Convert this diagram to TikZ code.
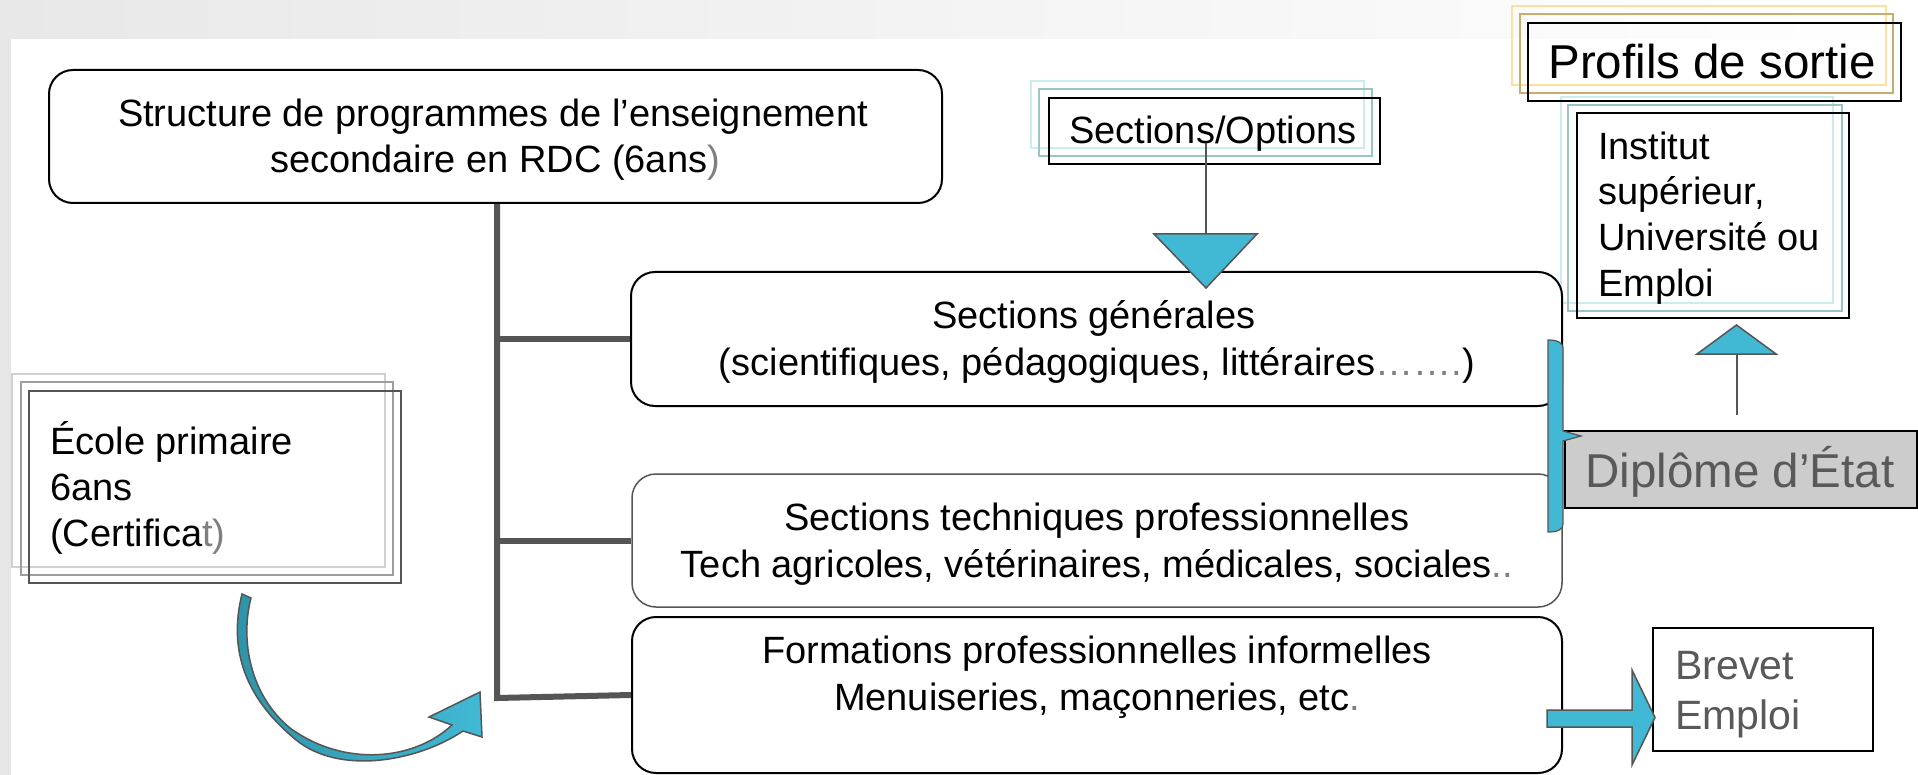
\documentclass[tikz,border=0pt]{standalone}
\usepackage{fontspec}
\setmainfont{Liberation Sans}
\usetikzlibrary{calc}
\definecolor{blu}{HTML}{41B9D5}
\definecolor{dblu}{HTML}{2E93A8}
\definecolor{edge}{HTML}{555555}
\definecolor{txtgray}{HTML}{595959}
\definecolor{dimtxt}{HTML}{7F7F7F}
\definecolor{cyanA}{HTML}{CBEBEF}
\definecolor{cyanB}{HTML}{9CC4C7}
\definecolor{yelA}{HTML}{FBE1A0}
\definecolor{yelB}{HTML}{C8AD73}
\definecolor{grayA}{HTML}{D0D0D0}
\definecolor{grayB}{HTML}{9E9E9E}
\definecolor{bandL}{HTML}{E8E8E8}
\definecolor{bandM}{HTML}{F3F3F3}
\definecolor{strip}{HTML}{E6E6E6}
\definecolor{dipl}{HTML}{CCCCCC}
\begin{document}
\begin{tikzpicture}[x=1pt,y=-1pt,
  lbl/.style={font=\fontsize{38}{46}\selectfont, inner sep=0pt, anchor=base},
  lbll/.style={lbl, anchor=base west},
  bigl/.style={font=\fontsize{47.5}{56}\selectfont, inner sep=0pt, anchor=base},
  rbox/.style={draw=black, line width=2pt, rounded corners=24pt, fill=white, inner sep=0pt},
  sbox/.style={draw=black, line width=2pt, inner sep=0pt},
  trunk/.style={draw=edge, line width=6pt},
  conn/.style={draw=edge, line width=2pt},
  bluehead/.style={fill=blu, draw=edge, line width=1.5pt, line join=miter},
  backrect/.style={line width=1.8pt},
]
\useasboundingbox (0,0) rectangle (1918,775);
% background
\shade[left color=bandL, middle color=bandM, right color=white] (0,0) rectangle (1918,39);
\fill[strip] (0,39) rectangle (11,775);
\fill[white] (11,39) rectangle (1918,775);

% decorative back rectangles
\draw[backrect, cyanA] (1031,81) rectangle (1364,148);
\draw[backrect, cyanB] (1039,89) rectangle (1372,156);
\draw[backrect, yelA] (1512,6) rectangle (1886,85);
\draw[backrect, yelB] (1520,14) rectangle (1893,93);
\draw[backrect, cyanA] (1561,97) rectangle (1833,303);
\draw[backrect, cyanB] (1568,105) rectangle (1842,311);
\draw[backrect, grayA] (12,374) rectangle (385,567);
\draw[backrect, grayB] (21,382) rectangle (393,575);

% main boxes
\node[rbox, minimum width=893pt, minimum height=133pt] (top) at (495.5,136.5) {};
\node[rbox, minimum width=931pt, minimum height=134pt] (box1) at (1096.5,339) {};
\node[rbox, draw=edge, line width=1.5pt, minimum width=930pt, minimum height=133pt] (box2) at (1097,540.5) {};
\node[rbox, minimum width=930pt, minimum height=156pt] (box3) at (1097,695) {};
\node[sbox, minimum width=331pt, minimum height=66pt] (secopt) at (1214.5,131) {};
\node[sbox, minimum width=373pt, minimum height=78pt] (profils) at (1714.5,62) {};
\node[sbox, minimum width=272pt, minimum height=205pt] (inst) at (1713,215.5) {};
\node[sbox, draw=edge, minimum width=372pt, minimum height=192pt] (ecole) at (215,487) {};
\node[sbox, fill=dipl, minimum width=352pt, minimum height=77pt] (diplome) at (1741,469.5) {};
\node[sbox, fill=white, minimum width=220pt, minimum height=123pt] (brevet) at (1763,689.5) {};

% trunk and branches
\coordinate (tj) at (497,698);
\draw[trunk, line join=miter] (top.south -| tj) -- (tj) -- (box3.west);
\draw[trunk] (box1.west -| tj) -- (box1.west);
\draw[trunk] (box2.west -| tj) -- (box2.west);

% texts
\node[lbl] (t0a) at (493,127) {Structure de programmes de l’enseignement};
\node[lbl] (t0b) at (495,173) {secondaire en RDC (6ans{\color{dimtxt})}};
\node[lbl] (t1a) at (1094,329) {Sections générales};
\node[lbl] (t1b) at (1097,375) {(scientifiques, pédagogiques, littéraires{\color{dimtxt}…….})};
\node[lbl] (t2a) at (1097,530) {Sections techniques professionnelles};
\node[lbl] (t2b) at (1097,577) {Tech agricoles, vétérinaires, médicales, sociales{\color{dimtxt}..}};
\node[lbl] (t3a) at (1097,663) {Formations professionnelles informelles};
\node[lbl] (t3b) at (1097,710) {Menuiseries, maçonneries, etc{\color{dimtxt}.}};
\node[lbl] (tso) at (1213,144) {Sections/Options};
\node[bigl] (tpr) at (1712,79) {Profils de sortie};
\node[lbll] (ti1) at (1598,160) {Institut};
\node[lbll] (ti2) at (1598,205) {supérieur,};
\node[lbll] (ti3) at (1598,251) {Université ou};
\node[lbll] (ti4) at (1598,297) {Emploi};
\node[lbll] (te1) at (50,454) {École primaire};
\node[lbll] (te2) at (50,500) {6ans};
\node[lbll] (te3) at (50,546) {(Certifica{\color{dimtxt}t)}};
\node[bigl, text=txtgray] (tdi) at (1740,487) {Diplôme d’État};
\node[lbll, font=\fontsize{41}{50}\selectfont, text=txtgray] (tb1) at (1675,679) {Brevet};
\node[lbll, font=\fontsize{41}{50}\selectfont, text=txtgray] (tb2) at (1675,729) {Emploi};

% Sections/Options -> Sections generales
\coordinate (so1) at (1206,143);
\coordinate (so2) at (1206,234);
\draw[conn] (so1) -- (so2);
\filldraw[bluehead] (1154,234) -- (1257,234) -- (1206,288) -- cycle;

% Diplome -> Institut
\coordinate (di1) at (1737,415);
\coordinate (di2) at (1737,354);
\draw[conn] (di1) -- (di2);
\filldraw[bluehead] (1697,354) -- (1776,354) -- (1736.5,325) -- cycle;

% brace bar
\filldraw[fill=blu, draw=edge, line width=1.2pt] (1548,340) .. controls (1557,340) and (1563,342) .. (1563,349) -- (1563,431) -- (1581,436) -- (1563,441) -- (1563,524) .. controls (1563,530) and (1557,532) .. (1548,532) -- cycle;

% block arrow to Brevet
\filldraw[bluehead] (1547,710) -- (1632,710) -- (1632,670) -- (1655,717.5) -- (1632,765) -- (1632,727) -- (1547,727) -- cycle;

% curved arrow from Ecole primaire
\shadedraw[left color=dblu, right color=blu, draw=edge, line width=1.5pt, line join=miter]
 (242,594) .. controls (228,650) and (245,700) .. (300,743)
 .. controls (345,775) and (420,760) .. (463,731)
 -- (482,737) -- (480,692) -- (429,717) -- (452,725)
 .. controls (415,760) and (345,768) .. (290,728)
 .. controls (250,695) and (240,640) .. (251,598) -- cycle;
\end{tikzpicture}
\end{document}
